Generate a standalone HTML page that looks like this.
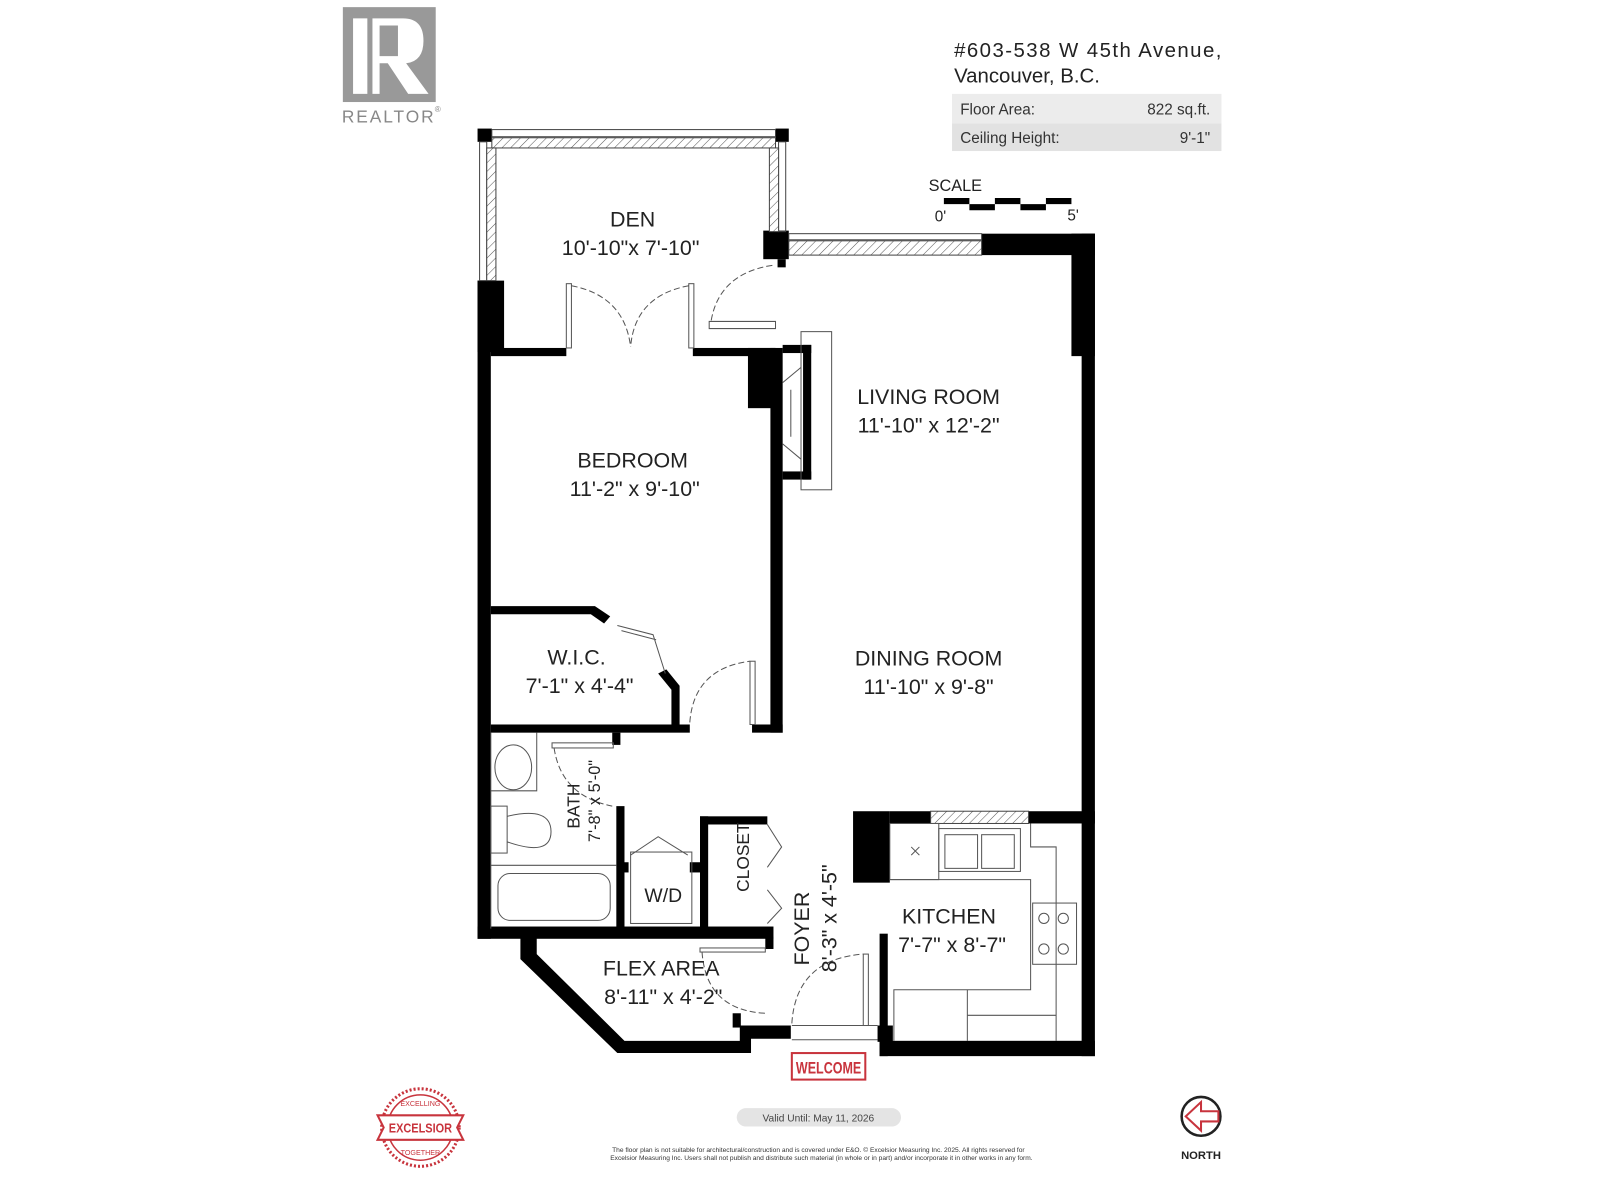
<!DOCTYPE html>
<html><head><meta charset="utf-8"><style>
html,body{margin:0;padding:0;background:#fff;width:1600px;height:1200px;overflow:hidden}
svg{display:block}
text{font-family:"Liberation Sans",sans-serif}
</style></head><body>
<svg width="1600" height="1200" viewBox="0 0 1568 1176" preserveAspectRatio="none" xmlns="http://www.w3.org/2000/svg">
<defs>
<pattern id="h" width="6" height="6" patternUnits="userSpaceOnUse" patternTransform="rotate(45)">
<rect width="6" height="6" fill="#fff"/><line x1="0" y1="0" x2="0" y2="6" stroke="#555" stroke-width="1"/></pattern>
</defs>
<rect x="336" y="7" width="91" height="93" fill="#999"/>
<rect x="346" y="18" width="14" height="74" fill="#fff"/>
<path d="M365 18 H395 Q415 18 415 40 Q415 60 398 62 L420 92 H400 L380 62 H372 V92 H365 Z" fill="#fff"/>
<rect x="372" y="25" width="18" height="30" fill="#999"/>
<text x="335" y="120" font-size="17" fill="#888" textLength="90">REALTOR</text>
<text x="426" y="110" font-size="8" fill="#888">®</text>
<text x="935" y="56" font-size="20" fill="#222" textLength="262">#603-538 W 45th Avenue,</text>
<text x="935" y="81" font-size="20" fill="#222">Vancouver, B.C.</text>
<rect x="933" y="92" width="264" height="29" fill="#ececec"/>
<rect x="933" y="121" width="264" height="27" fill="#e2e2e2"/>
<text x="941" y="112" font-size="15" fill="#333">Floor Area:</text>
<text x="1186" y="112" font-size="15" fill="#333" text-anchor="end">822 sq.ft.</text>
<text x="941" y="140" font-size="15" fill="#333">Ceiling Height:</text>
<text x="1186" y="140" font-size="15" fill="#333" text-anchor="end">9'-1"</text>
<text x="910" y="187" font-size="16" fill="#222">SCALE</text>
<path d="M925 194h25v6h-25zM950 200h25v6h-25zM975 194h25v6h-25zM1000 200h25v6h-25zM1025 194h25v6h-25z" fill="#000"/>
<text x="916" y="217" font-size="15" fill="#222">0'</text>
<text x="1046" y="216" font-size="15" fill="#222">5'</text>

<g fill="#000">
<rect x="468" y="126" width="14" height="13"/><rect x="760" y="126" width="13" height="13"/>
<rect x="468" y="275" width="26" height="70"/>
<rect x="468" y="275" width="13" height="645"/>
<rect x="481" y="341" width="74" height="8"/><rect x="679" y="341" width="81" height="8"/>
<rect x="748" y="226" width="25" height="28"/><rect x="762" y="254" width="8" height="8"/>
<rect x="962" y="229" width="111" height="21"/>
<rect x="1050" y="229" width="23" height="120"/>
<rect x="1060" y="229" width="13" height="806"/>
<rect x="733" y="341" width="27" height="59"/>
<rect x="755" y="341" width="12" height="377"/>
<rect x="767" y="338" width="28" height="8"/><rect x="767" y="462" width="28" height="8"/>
<rect x="787" y="338" width="8" height="132"/>
<path d="M481 594 H583 L598 604 L592 611 L579 602 H481 Z"/>
<path d="M645 660 L653 656 L666 672 V712 H658 V676 Z"/>
<rect x="481" y="710" width="195" height="8"/>
<rect x="737" y="710" width="30" height="8"/>
<rect x="600" y="718" width="8" height="12"/>
<rect x="604" y="790" width="8" height="125"/>
<rect x="468" y="908" width="290" height="12"/>
<rect x="686" y="800" width="66" height="8"/><rect x="686" y="800" width="8" height="112"/>
<rect x="610" y="845" width="6" height="10"/><rect x="676" y="845" width="10" height="10"/>
<rect x="750" y="918" width="8" height="12"/>
<path d="M510 917 H526 V935 L612 1020 H725 V1005 H775 V1018 H736 V1032 H605 L510 940 Z"/>
<rect x="718" y="993" width="8" height="14"/>
<rect x="836" y="795" width="36" height="70"/>
<rect x="872" y="795" width="40" height="12"/>
<rect x="1008" y="795" width="65" height="12"/>
<rect x="862" y="915" width="8" height="120"/>
<rect x="860" y="1005" width="15" height="16"/>
<rect x="862" y="1020" width="211" height="15"/>
</g>
<g fill="none" stroke="#444" stroke-width="1">
<rect x="482" y="127" width="278" height="7"/>
<rect x="470" y="139" width="7" height="136"/>
<rect x="763" y="139" width="7" height="88"/>
<rect x="773" y="229" width="189" height="6"/>
</g>
<rect x="482" y="135" width="278" height="10" fill="url(#h)" stroke="#444"/>
<rect x="477" y="145" width="9" height="130" fill="url(#h)" stroke="#444"/>
<rect x="754" y="145" width="9" height="82" fill="url(#h)" stroke="#444"/>
<rect x="773" y="236" width="189" height="14" fill="url(#h)" stroke="#444"/>
<rect x="912" y="795" width="96" height="12" fill="url(#h)" stroke="#444"/>
<g fill="none" stroke="#555" stroke-width="1">
<rect x="555" y="278" width="5" height="63"/><rect x="675" y="278" width="5" height="63"/>
<path d="M560 280 Q612 290 618 340 M675 280 Q622 290 618 340" stroke-dasharray="6 3"/>
<path d="M695 315 H760 V322 H695 Z"/>
<path d="M697 314 Q705 268 757 260" stroke-dasharray="6 3"/>
<rect x="785" y="325" width="30" height="155"/>
<path d="M767 375 L785 360 M767 435 L785 450 M775 382 V428"/>
<path d="M605 613 L640 622 L652 660 M609 618 L643 627"/>
<rect x="735" y="648" width="5" height="62"/>
<path d="M676 708 Q680 655 735 648" stroke-dasharray="6 3"/>
<rect x="541" y="728" width="60" height="5"/>
<path d="M543 733 Q550 780 600 790" stroke-dasharray="6 3"/>
<path d="M481 718 V910 M526 718 V775 H481 M481 848 H604"/>
<ellipse cx="503" cy="752" rx="18" ry="22"/>
<rect x="481" y="790" width="16" height="46"/>
<path d="M497 800 Q540 790 540 815 Q540 840 497 825"/>
<rect x="488" y="856" width="110" height="46" rx="12"/>
<rect x="618" y="835" width="60" height="70"/>
<path d="M618 838 L645 820 L674 838"/>
<path d="M752 808 L766 830 L752 850 M752 872 L766 890 L752 905"/>
<rect x="686" y="929" width="64" height="4"/>
<path d="M688 933 Q692 990 750 993" stroke-dasharray="6 3"/>
<path d="M776 1005 H860 M776 1019 H860"/>
<rect x="846" y="935" width="5" height="70"/>
<path d="M776 1003 Q780 940 846 935" stroke-dasharray="6 3"/>
<rect x="872" y="807" width="48" height="55"/>
<path d="M893 830 l8 8 M901 830 l-8 8"/>
<rect x="920" y="812" width="80" height="42"/>
<rect x="926" y="818" width="32" height="33"/><rect x="962" y="818" width="32" height="33"/>
<path d="M872 862 H1010 V970 H876 V1020 M1010 807 V830 H1035 V1020 M948 970 V1020 M948 995 H1035" />
<rect x="1012" y="885" width="43" height="60"/>
<circle cx="1023" cy="900" r="5"/><circle cx="1042" cy="900" r="5"/>
<circle cx="1023" cy="930" r="5"/><circle cx="1042" cy="930" r="5"/>
</g>
<g font-size="21" fill="#222" text-anchor="middle">
<text x="620" y="222">DEN</text><text x="618" y="250">10'-10"x 7'-10"</text>
<text x="910" y="396">LIVING ROOM</text><text x="910" y="424">11'-10" x 12'-2"</text>
<text x="620" y="458">BEDROOM</text><text x="622" y="486">11'-2" x 9'-10"</text>
<text x="565" y="651">W.I.C.</text><text x="568" y="679">7'-1"  x  4'-4"</text>
<text x="910" y="652">DINING ROOM</text><text x="910" y="680">11'-10" x  9'-8"</text>
<text x="930" y="905">KITCHEN</text><text x="933" y="933">7'-7"  x  8'-7"</text>
<text x="648" y="956">FLEX AREA</text><text x="650" y="984">8'-11"  x  4'-2"</text>
<text x="650" y="884" font-size="19">W/D</text>
<text transform="translate(734 840) rotate(-90)" font-size="17">CLOSET</text>
<text transform="translate(793 910) rotate(-90)">FOYER</text>
<text transform="translate(820 900) rotate(-90)">8'-3" x 4'-5"</text>
<text transform="translate(568 790) rotate(-90)" font-size="17">BATH</text>
<text transform="translate(588 785) rotate(-90)" font-size="16">7'-8" x 5'-0"</text>
</g>
<rect x="776" y="1032" width="72" height="26" fill="#fff" stroke="#c8343d" stroke-width="2"/>
<text x="812" y="1052" font-size="16" font-weight="bold" fill="#c8343d" text-anchor="middle" textLength="64" lengthAdjust="spacingAndGlyphs">WELCOME</text>
<circle cx="412" cy="1105" r="38" fill="none" stroke="#c8343d" stroke-width="3" stroke-dasharray="2 2"/>
<circle cx="412" cy="1105" r="32" fill="none" stroke="#c8343d" stroke-width="1.5"/>
<path d="M370 1093 H454 L448 1105 L454 1117 H370 L376 1105 Z" fill="#fff" stroke="#c8343d" stroke-width="2"/>
<text x="412" y="1110" font-size="13" font-weight="bold" fill="#c8343d" text-anchor="middle" textLength="62" lengthAdjust="spacingAndGlyphs">EXCELSIOR</text>
<text x="412" y="1084" font-size="7" fill="#c8343d" text-anchor="middle">EXCELLING</text>
<text x="412" y="1132" font-size="7" fill="#c8343d" text-anchor="middle">TOGETHER</text>
<rect x="722" y="1086" width="161" height="18" rx="9" fill="#e4e4e4"/>
<text x="802" y="1099" font-size="10" fill="#444" text-anchor="middle">Valid Until: May 11, 2026</text>
<text x="802" y="1129" font-size="6.5" fill="#333" text-anchor="middle">The floor plan is not suitable for architectural/construction and is covered under E&amp;O. © Excelsior Measuring Inc. 2025. All rights reserved for</text>
<text x="805" y="1137" font-size="6.5" fill="#333" text-anchor="middle">Excelsior Measuring Inc. Users shall not publish and distribute such material (in whole or in part) and/or incorporate it in other works in any form.</text>
<circle cx="1177" cy="1094" r="19" fill="#fff" stroke="#222" stroke-width="2.5"/>
<path d="M1162 1094 L1177 1080 L1177 1089 H1194 V1099 H1177 V1108 Z" fill="#fff" stroke="#c8343d" stroke-width="2"/>
<text x="1177" y="1136" font-size="11" font-weight="bold" fill="#222" text-anchor="middle">NORTH</text>
</svg>
</body></html>
